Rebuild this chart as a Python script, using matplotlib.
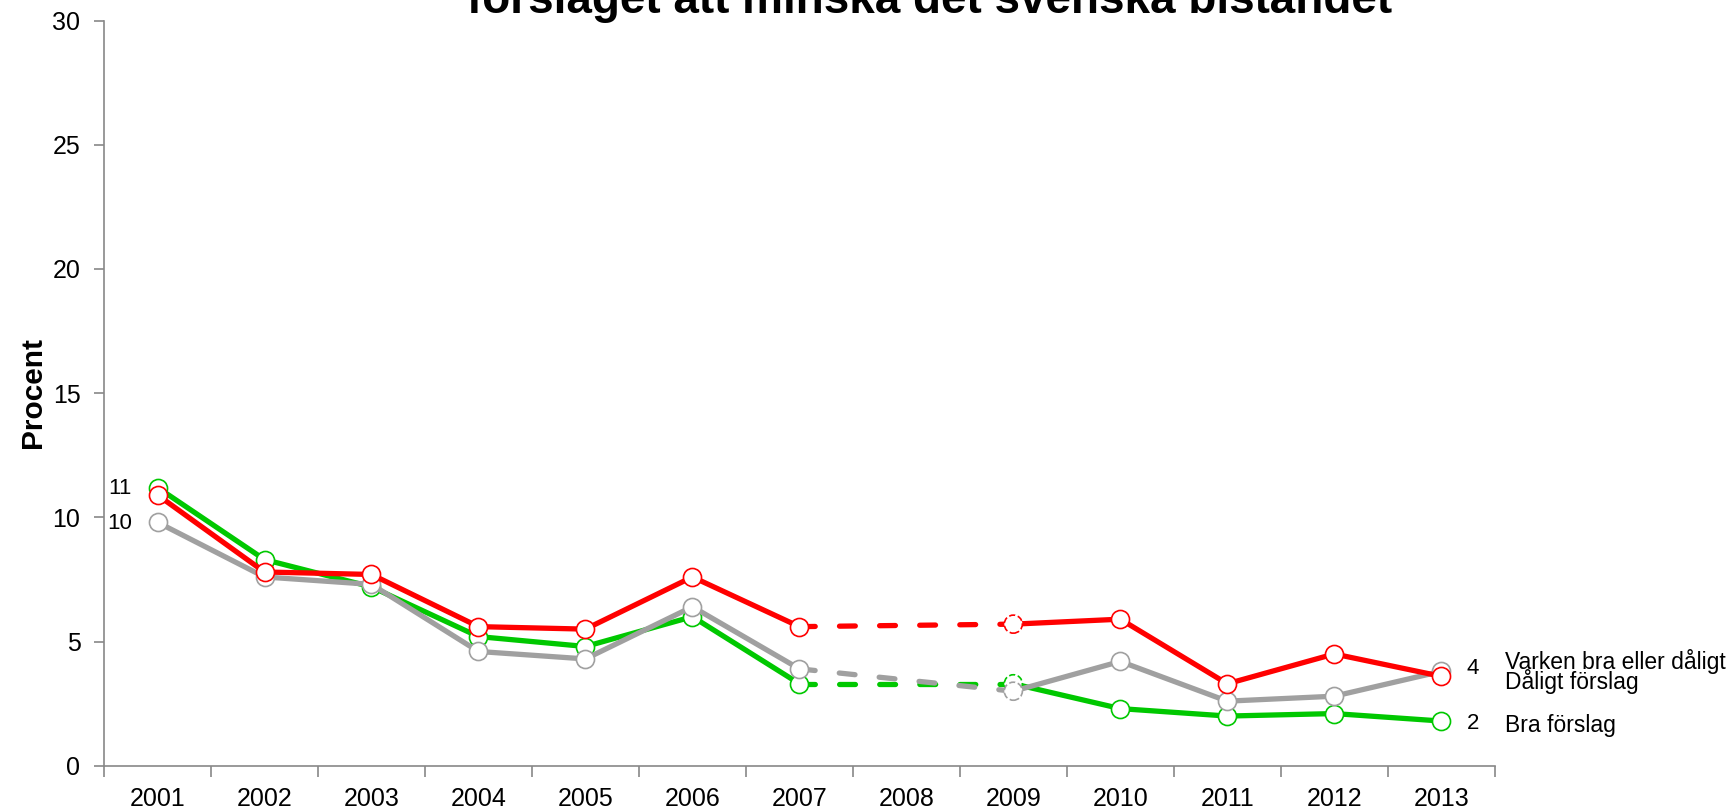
import numpy as np
import matplotlib
matplotlib.use("Agg")
import matplotlib.pyplot as plt

plt.rcParams['font.family'] = ['Liberation Sans', 'DejaVu Sans']

years = ['2001', '2002', '2003', '2004', '2005', '2006', '2007',
         '2008', '2009', '2010', '2011', '2012', '2013']
# 2008 saknas (nan)
bra = [11.2, 8.3, 7.2, 5.2, 4.8, 6.0, 3.3, np.nan, 3.3, 2.3, 2.0, 2.1, 1.8]
daligt = [10.9, 7.8, 7.7, 5.6, 5.5, 7.6, 5.6, np.nan, 5.7, 5.9, 3.3, 4.5, 3.6]
varken = [9.8, 7.6, 7.3, 4.6, 4.3, 6.4, 3.9, np.nan, 3.0, 4.2, 2.6, 2.8, 3.8]

series = [
    ('Bra förslag', bra, '#00c800'),
    ('Varken bra eller dåligt', varken, '#a0a0a0'),
    ('Dåligt förslag', daligt, '#ff0000'),
]
start_labels = {'Bra förslag': '11', 'Varken bra eller dåligt': '10'}
end_labels = {'Bra förslag': '2', 'Varken bra eller dåligt': '4'}
# placering av serienamn till höger (y i data)
name_y = {'Bra förslag': 1.62, 'Varken bra eller dåligt': 4.2,
          'Dåligt förslag': 3.4}

fig = plt.figure(figsize=(17.34, 8.08), dpi=100)
ax = fig.add_axes([0.06, 0.0523, 0.802, 0.9223])

x = np.arange(len(years))
gap = years.index('2008')

for z, (name, vals, col) in enumerate(series):
    vals = np.array(vals, dtype=float)
    zo = 3 + z
    # heldragna delar
    ax.plot(x[:gap], vals[:gap], color=col, lw=3.8, zorder=zo,
            solid_capstyle='round', solid_joinstyle='round')
    ax.plot(x[gap + 1:], vals[gap + 1:], color=col, lw=3.8, zorder=zo,
            solid_capstyle='round', solid_joinstyle='round')
    # streckad brygga över året som saknas
    ax.plot([x[gap - 1], x[gap + 1]], [vals[gap - 1], vals[gap + 1]],
            color=col, lw=3.8, ls=(0, (3, 4.6)), dash_capstyle='round',
            zorder=zo)
    mask = np.ones(len(x), bool)
    mask[gap] = False
    mask[gap + 1] = False
    ax.plot(x[mask], vals[mask], ls='none', marker='o', ms=13,
            mfc='white', mec=col, mew=1.2, zorder=zo + 0.5)
    ax.scatter([x[gap + 1]], [vals[gap + 1]], s=13 ** 2, c='white',
               edgecolors=col, linewidths=1.2, linestyles='--',
               zorder=zo + 0.5)

    if name in start_labels:
        ax.text(-0.24, vals[0] - 0.05, start_labels[name], ha='right',
                va='center', fontsize=16, zorder=10)
    if name in end_labels:
        ax.text(12.24, vals[-1] + (0.1 if name.startswith('Varken') else -0.08),
                end_labels[name], ha='left', va='center', fontsize=16)
    ax.text(12.6, name_y[name], name, ha='left', va='center', fontsize=16.5,
            clip_on=False)

ax.set_xlim(-0.5, 12.5)
ax.set_ylim(0, 30)
ax.set_yticks([0, 5, 10, 15, 20, 25, 30])
ax.set_xticks(x)
ax.set_xticklabels(years)
ax.set_xticks(np.arange(-0.5, 13, 1), minor=True)
ax.tick_params(axis='x', which='major', length=0, pad=15.5, labelsize=18)
ax.tick_params(axis='x', which='minor', length=8, color='#888888', width=1.2)
ax.tick_params(axis='y', length=7, color='#888888', width=1.2, pad=10,
               labelsize=18)

for s in ['top', 'right']:
    ax.spines[s].set_visible(False)
for s in ['left', 'bottom']:
    ax.spines[s].set_color('#888888')
    ax.spines[s].set_linewidth(1.2)

fig.text(33 / 1734, 1 - 393 / 808, 'Procent', rotation=90, ha='center',
         va='center', fontsize=21.5, fontweight='bold')
fig.text(0.536, 0.984, 'förslaget att minska det svenska biståndet',
         ha='center', va='baseline', fontsize=33, fontweight='bold')

fig.savefig('out.png', dpi=100)
